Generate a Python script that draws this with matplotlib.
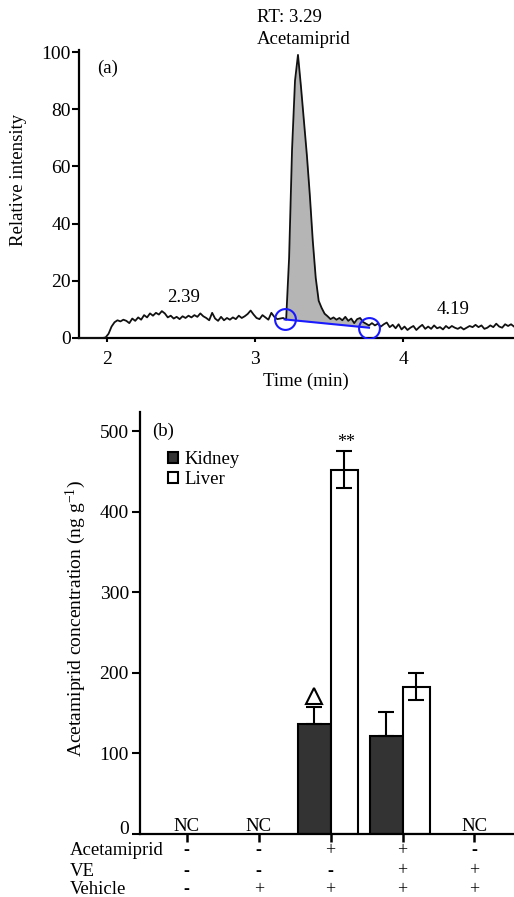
import matplotlib
matplotlib.use('Agg')
import matplotlib.pyplot as plt
import numpy as np
from matplotlib.transforms import blended_transform_factory, ScaledTranslation

plt.rcParams['font.family'] = ['Liberation Serif', 'DejaVu Serif']
plt.rcParams['mathtext.fontset'] = 'custom'
plt.rcParams['mathtext.rm'] = 'Liberation Serif'
plt.rcParams['mathtext.it'] = 'Liberation Serif:italic'

# ---------------- Panel (a) data: chromatogram ----------------
time_start = 1.81
time_step = 0.02
intensity = [
    0, 0, 0, 0, 0, 0, 0, 0, 0, 0.2,
    1.5, 4.0, 5.5, 6.2, 5.8, 6.4, 6.0, 5.2, 6.8, 6.0,
    7.2, 6.4, 8.0, 7.2, 8.6, 7.8, 8.8, 8.2, 9.4, 8.6,
    7.2, 7.8, 6.8, 7.4, 6.6, 7.6, 7.0, 7.8, 7.2, 8.0,
    7.4, 8.6, 7.6, 7.0, 6.2, 8.8, 6.8, 6.0, 7.4, 6.2,
    7.0, 6.4, 7.2, 6.6, 7.8, 7.0, 7.6, 8.4, 9.6, 8.2,
    7.0, 6.6, 8.0, 7.2, 6.4, 8.8, 7.4, 6.6, 6.8, 7.0,
    6.4, 28, 66, 90, 99, 88, 76, 64, 50, 34,
    21, 13, 10.5, 8.5, 7.6, 6.6, 7.2, 6.4, 7.0, 6.2,
    7.4, 6.0, 6.8, 5.2, 6.6, 7.0, 5.6, 5.0, 4.4, 5.2,
    4.4, 5.0, 4.0, 4.8, 5.4, 3.8, 4.6, 3.4, 4.8, 3.0,
    4.0, 2.8, 3.6, 4.2, 2.8, 3.8, 4.6, 3.2, 4.0, 3.2,
    4.4, 3.4, 3.8, 3.0, 4.2, 3.4, 4.2, 3.6, 3.2, 3.8,
    3.0, 3.6, 4.2, 3.8, 4.6, 3.8, 4.4, 3.2, 3.6, 4.4,
    3.8, 5.0, 4.0, 3.6, 4.8, 4.2, 4.8, 4.0,
]
times = np.round(time_start + time_step * np.arange(len(intensity)), 2)
intensity = np.array(intensity, dtype=float)

peak_base_t = [3.20, 3.77]
peak_base_y = [6.5, 3.6]

x_ticks_a = [2, 3, 4]
y_ticks_a = [0, 20, 40, 60, 80, 100]

# ---------------- Panel (b) data: bar chart ----------------
groups = [0, 1, 2, 3, 4]
kidney = [0, 0, 137, 122, 0]
kidney_err = [0, 0, 20, 29, 0]
liver = [0, 0, 452, 183, 0]
liver_err = [0, 0, 23, 17, 0]
nc_groups = [0, 1, 4]
row_labels = ['Acetamiprid', 'VE', 'Vehicle']
row_signs = [
    ['-', '-', '+', '+', '-'],
    ['-', '-', '-', '+', '+'],
    ['-', '+', '+', '+', '+'],
]
y_ticks_b = [0, 100, 200, 300, 400, 500]

W, H = 514, 897
fig = plt.figure(figsize=(W / 100, H / 100), dpi=100)

# ================= Panel (a) =================
axa = fig.add_axes([79 / W, 1 - 338 / H, 435 / W, 288 / H])
axa.plot(times, intensity, color='#111111', lw=1.3, clip_on=False, zorder=3)

mask = (times >= peak_base_t[0]) & (times <= peak_base_t[1])
tf = np.concatenate([[peak_base_t[0]], times[mask], [peak_base_t[1]]])
yf = np.concatenate([[peak_base_y[0]], intensity[mask], [peak_base_y[1]]])
bf = np.interp(tf, peak_base_t, peak_base_y)
axa.fill_between(tf, yf, bf, color='#b5b5b5', lw=0, zorder=2)
axa.plot(peak_base_t, peak_base_y, color='#1a1aff', lw=1.5, zorder=4)
axa.plot(peak_base_t, peak_base_y, ls='none', marker='o', ms=15, mfc='none',
         mec='#1a1aff', mew=1.5, zorder=5)

axa.set_xlim(1.81, 4.75)
axa.set_ylim(0, 100.7)
axa.set_xticks(x_ticks_a)
axa.set_yticks(y_ticks_a)
for s in ['top', 'right']:
    axa.spines[s].set_visible(False)
for s in ['left', 'bottom']:
    axa.spines[s].set_linewidth(1.6)
axa.tick_params(axis='y', direction='out', length=5, width=1.5, labelsize=14, pad=1)
axa.tick_params(axis='x', direction='out', length=3, width=1.5, labelsize=14, pad=6)

axa.text(3.014, 110.5, 'RT: 3.29', fontsize=13.5, ha='left', va='baseline', clip_on=False)
axa.text(3.014, 102.8, 'Acetamiprid', fontsize=13.5, ha='left', va='baseline', clip_on=False)
axa.text(1.93, 94.4, '(a)', fontsize=13.5, ha='left', va='center')
axa.text(2.514, 14, '2.39', fontsize=13.5, ha='center', va='center')
axa.text(4.34, 9.8, '4.19', fontsize=13.5, ha='center', va='center')

fig.text(306 / W, 1 - 381 / H, 'Time (min)', fontsize=13.5, ha='center', va='center')
fig.text(19 / W, 1 - 180 / H, 'Relative intensity', fontsize=13.5, ha='center',
         va='center', rotation=90)

# ================= Panel (b) =================
axb = fig.add_axes([140 / W, 1 - 834 / H, 374 / W, 422 / H])
wk, wl = 0.453, 0.38
gi = [g for g in groups if kidney[g] > 0 or liver[g] > 0]
kx = [groups[g] - wk for g in gi]
lx = [groups[g] for g in gi]
axb.bar(kx, [kidney[g] for g in gi], width=wk, align='edge', color='#333333',
        edgecolor='black', lw=1.5, label='Kidney', zorder=2)
axb.bar(lx, [liver[g] for g in gi], width=wl, align='edge', color='white',
        edgecolor='black', lw=1.5, label='Liver', zorder=2)
axb.errorbar([groups[g] - wk / 2 for g in gi], [kidney[g] for g in gi],
             yerr=[[0] * len(gi), [kidney_err[g] for g in gi]], fmt='none',
             ecolor='black', elinewidth=1.5, capsize=5.5, capthick=1.5, zorder=3)
axb.errorbar([groups[g] + wl / 2 for g in gi], [liver[g] for g in gi],
             yerr=[liver_err[g] for g in gi], fmt='none',
             ecolor='black', elinewidth=1.5, capsize=5.5, capthick=1.5, zorder=3)

for g in nc_groups:
    axb.text(groups[g], 4, 'NC', fontsize=13.5, ha='center', va='baseline')

axb.text(2 + wl / 2 + 0.02, 486, '**', fontsize=13, ha='center', va='center')
axb.plot([2 - wk / 2], [171], ls='none', marker='^', ms=12, mfc='white',
         mec='black', mew=1.5, zorder=4)
axb.text(-0.333, 500, '(b)', fontsize=13.5, ha='center', va='center')

axb.set_xlim(-0.65, 4.55)
axb.set_ylim(0, 523.6)
axb.set_xticks(groups)
axb.set_xticklabels([])
axb.set_yticks(y_ticks_b)
for s in ['top', 'right']:
    axb.spines[s].set_visible(False)
for s in ['left', 'bottom']:
    axb.spines[s].set_linewidth(1.6)
axb.tick_params(axis='y', direction='out', length=6, width=1.5, labelsize=14, pad=2)
axb.tick_params(axis='x', direction='out', length=6, width=1.8)
# the zero label sits slightly above its tick in the reference
zero_lab = axb.get_yticklabels()[0]
zero_lab.set_transform(zero_lab.get_transform() +
                       ScaledTranslation(0, 5 / 72, fig.dpi_scale_trans))

leg = axb.legend(loc='upper left', bbox_to_anchor=(168 / W, 1 - 451 / H),
                 bbox_transform=fig.transFigure, frameon=False, fontsize=13.5,
                 handlelength=0.55, handleheight=0.55, handletextpad=0.35,
                 labelspacing=0.15, borderpad=0, borderaxespad=0)
for p in leg.get_patches():
    p.set_linewidth(1.5)

fig.text(76 / W, 1 - 619 / H, 'Acetamiprid concentration (ng g$^{-1}$)',
         fontsize=14, ha='center', va='center', rotation=90)

tr = blended_transform_factory(axb.transData, fig.transFigure)
row_y = [1 - 850.5 / H, 1 - 871 / H, 1 - 889.5 / H]
for lab, signs, yy in zip(row_labels, row_signs, row_y):
    fig.text(70 / W, yy, lab, fontsize=13.5, ha='left', va='center')
    for g, s in zip(groups, signs):
        axb.text(groups[g], yy, s, transform=tr, fontsize=13, ha='center',
                 va='center', clip_on=False,
                 fontweight='bold' if s == '-' else 'normal')

fig.savefig('out.png', dpi=100)
